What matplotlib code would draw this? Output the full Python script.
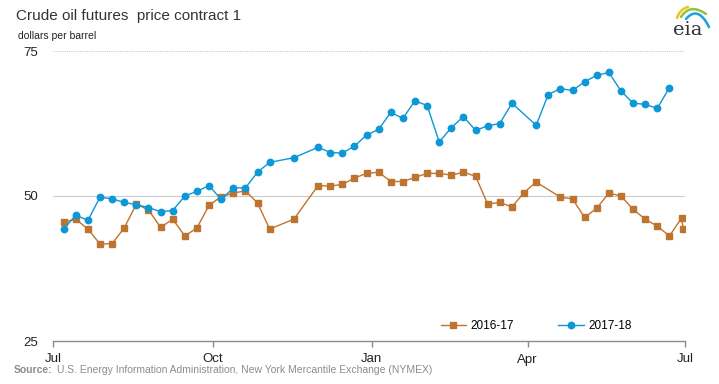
import numpy as np
import pandas as pd
import matplotlib
matplotlib.use('Agg')
import matplotlib.pyplot as plt

plt.rcParams['font.family'] = ['Liberation Sans', 'DejaVu Sans']

# weekly (Friday) settlement prices, dollars per barrel
# 2017-18 season, missing weeks: Nov 10, Nov 24, Mar 30
dates_1718 = pd.date_range('2017-07-07', '2018-06-22', freq='W-FRI')
dates_1718 = dates_1718.drop(pd.to_datetime(['2017-11-10', '2017-11-24', '2018-03-30']))
price_1718 = [44.3, 46.7, 45.8, 49.8, 49.5, 48.9, 48.5, 48.0, 47.3, 47.5,
              50.0, 50.8, 51.8, 49.4, 51.4, 51.4, 54.1, 55.8,
              56.6,
              58.4, 57.5, 57.4, 58.6, 60.5, 61.5, 64.4, 63.4, 66.4, 65.6,
              59.3, 61.8, 63.7, 61.3, 62.1, 62.5, 66.0,
              62.2, 67.5, 68.5, 68.2, 69.7, 70.8, 71.3, 68.1, 66.0, 65.8,
              65.1, 68.7]

# 2016-17 season, missing weeks: Nov 11, Nov 25, Apr 14
dates_1617 = pd.date_range('2016-07-08', '2017-06-30', freq='W-FRI')
dates_1617 = dates_1617.drop(pd.to_datetime(['2016-11-11', '2016-11-25', '2017-04-14']))
dates_1617 = dates_1617.append(pd.DatetimeIndex(['2017-07-01']))
price_1617 = [45.5, 46.0, 44.3, 41.7, 41.8, 44.5, 48.6, 47.6, 44.6, 46.0,
              43.1, 44.5, 48.4, 49.9, 50.5, 50.9, 48.8, 44.3,
              46.0,
              51.8, 51.7, 52.0, 53.1, 53.9, 54.1, 52.5, 52.5, 53.2, 53.9,
              53.9, 53.6, 54.1, 53.4, 48.6, 48.9, 48.1, 50.6, 52.4,
              49.8, 49.5, 46.3, 47.9, 50.5, 50.0, 47.7, 46.0, 44.8, 43.1,
              46.2, 44.3]

series_names = ['2016-17', '2017-18']
xtick_dates = ['2017-07-01', '2017-10-01', '2018-01-01', '2018-04-01', '2018-07-01']
xtick_labels = ['Jul', 'Oct', 'Jan', 'Apr', 'Jul']
yticks = [25, 50, 75]

orange = '#BD7430'
blue = '#0C97D6'

fig = plt.figure(figsize=(7.19, 3.84), dpi=100)
ax = fig.add_axes([53.3 / 719, 1 - 341 / 384, (685 - 53.3) / 719, 290 / 384])

# put last year on this year's calendar (52 weeks later)
x_1617 = dates_1617 + pd.Timedelta(days=364)

ax.plot(x_1617, price_1617, color=orange, lw=1, marker='s', ms=4.4,
        mec=orange, mfc=orange, label=series_names[0], zorder=3)
ax.plot(dates_1718, price_1718, color=blue, lw=1, marker='o', ms=4.6,
        mec=blue, mfc=blue, label=series_names[1], zorder=3)

ax.set_xlim(pd.Timestamp(xtick_dates[0]), pd.Timestamp(xtick_dates[-1]))
ax.set_ylim(25, 75)
ax.set_yticks(yticks)
ax.set_yticklabels([str(v) for v in yticks])
ax.set_xticks(pd.to_datetime(xtick_dates))
ax.set_xticklabels(xtick_labels)

ax.axhline(50, color='#CCCCCC', lw=0.8, zorder=1)
ax.axhline(75, color='#CCCCCC', lw=0.8, ls=(0, (1, 1)), zorder=1)

for s in ['top', 'right', 'left']:
    ax.spines[s].set_visible(False)
ax.spines['bottom'].set_color('#8C8C8C')
ax.spines['bottom'].set_linewidth(1)
ax.tick_params(axis='y', length=0, pad=11, labelsize=9.5, labelcolor='#222222')
ax.tick_params(axis='x', length=4, width=1, color='#8C8C8C', pad=5,
               labelsize=9.5, labelcolor='#222222', direction='out')
ax.patch.set_alpha(0)

leg = ax.legend(loc='center', bbox_to_anchor=(536 / 719, 1 - 326 / 384),
                bbox_transform=fig.transFigure, ncol=2, frameon=False,
                fontsize=8.5, handlelength=2.15, handletextpad=0.35,
                columnspacing=3.8)

fig.text(16 / 719, 1 - 16 / 384, 'Crude oil futures  price contract 1',
         fontsize=11, color='#333333', va='center', ha='left')
fig.text(18 / 719, 1 - 36 / 384, 'dollars per barrel',
         fontsize=7.5, color='#222222', va='center', ha='left')

fig.text(14 / 719, 1 - 370 / 384, 'Source:', fontsize=7.5, color='#8C8C8C',
         fontweight='bold', va='center', ha='left')
fig.text(57 / 719, 1 - 370 / 384,
         'U.S. Energy Information Administration, New York Mercantile Exchange (NYMEX)',
         fontsize=7.5, color='#8C8C8C', va='center', ha='left')

# eia logo, drawn in pixel coordinates (y down)
lax = fig.add_axes([660 / 719, 1 - 44 / 384, 59 / 719, 44 / 384])
lax.set_xlim(660, 719)
lax.set_ylim(44, 0)
lax.axis('off')
lax.text(688, 35, 'eia', fontsize=14, family='DejaVu Serif', color='#333333',
         ha='center', va='baseline')


def swoosh(p0, p1, p2, color):
    t = np.linspace(0, 1, 40)[:, None]
    pts = (1 - t) ** 2 * np.array(p0) + 2 * (1 - t) * t * np.array(p1) + t ** 2 * np.array(p2)
    lax.plot(pts[:, 0], pts[:, 1], color=color, lw=1.8, solid_capstyle='round')


swoosh((677, 18), (680, 9), (688, 7), '#F2C318')
swoosh((681, 17), (690, 3), (706, 14), '#8CC540')
swoosh((686, 19), (698, 5), (709, 27), '#1BA1DB')

fig.savefig('out.png', dpi=100)
